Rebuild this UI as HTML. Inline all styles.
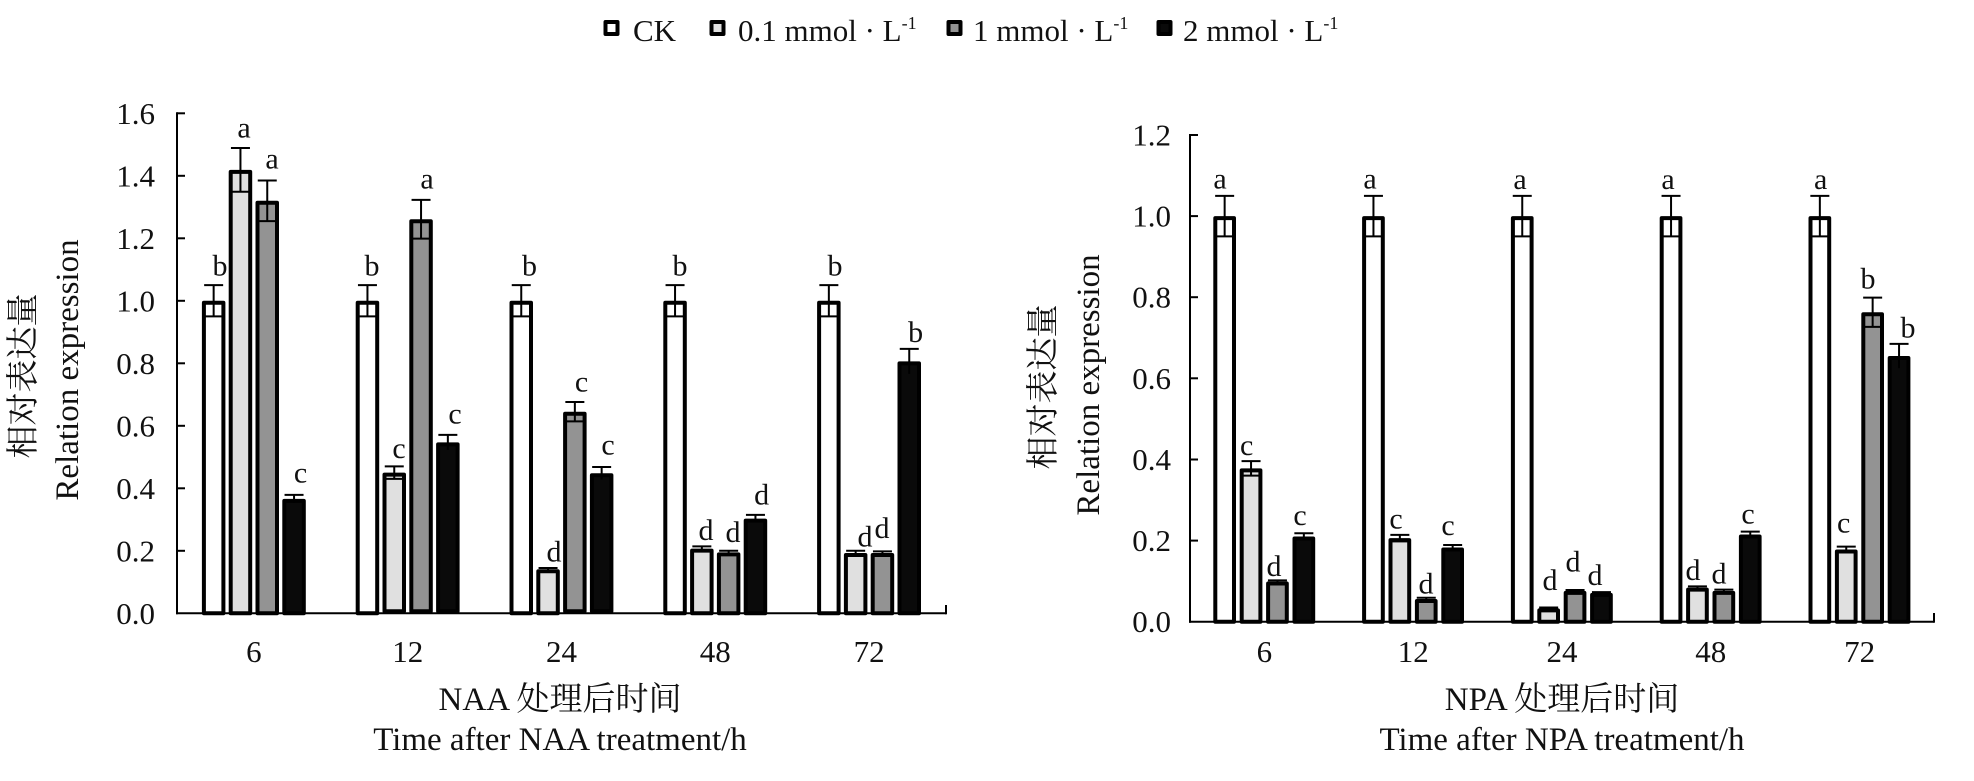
<!DOCTYPE html>
<html><head><meta charset="utf-8">
<style>
html,body{margin:0;padding:0;background:#fff;}
svg{display:block;}
text{font-family:"Liberation Serif","Noto Serif CJK SC",serif;fill:#111;}
.t{font-size:31px;}
.l{font-size:30px;text-anchor:middle;}
.ti{font-size:33px;}
</style></head>
<body>
<svg width="1974" height="781" viewBox="0 0 1974 781" xmlns="http://www.w3.org/2000/svg">
<rect width="1974" height="781" fill="#fff"/>

<!-- Legend -->
<g stroke="#000" stroke-width="4" stroke-linejoin="round">
<rect x="605.5" y="22" width="12" height="12" fill="#fff"/>
<rect x="711.5" y="22" width="12" height="12" fill="#e0e0e0"/>
<rect x="948.5" y="22" width="12" height="12" fill="#939393"/>
<rect x="1158.5" y="22" width="12" height="12" fill="#0a0a0a"/>
</g>
<text class="t" x="633" y="41">CK</text>
<text class="t" x="738" y="41">0.1 mmol · L<tspan font-size="18" dy="-12">-1</tspan></text>
<text class="t" x="973" y="41">1 mmol · L<tspan font-size="18" dy="-12">-1</tspan></text>
<text class="t" x="1183" y="41">2 mmol · L<tspan font-size="18" dy="-12">-1</tspan></text>

<!-- ================= LEFT CHART ================= -->
<g stroke="#000" stroke-width="2" fill="none">
<line x1="177" y1="112.3" x2="177" y2="614.3"/>
<line x1="176" y1="613.3" x2="946" y2="613.3"/>
<line x1="946" y1="605" x2="946" y2="614.3"/>
<line x1="177" y1="113.3" x2="185" y2="113.3"/>
<line x1="177" y1="175.8" x2="185" y2="175.8"/>
<line x1="177" y1="238.3" x2="185" y2="238.3"/>
<line x1="177" y1="300.8" x2="185" y2="300.8"/>
<line x1="177" y1="363.3" x2="185" y2="363.3"/>
<line x1="177" y1="425.8" x2="185" y2="425.8"/>
<line x1="177" y1="488.3" x2="185" y2="488.3"/>
<line x1="177" y1="550.8" x2="185" y2="550.8"/>
</g>
<text class="t" x="155" y="623.8" text-anchor="end">0.0</text>
<text class="t" x="155" y="561.3" text-anchor="end">0.2</text>
<text class="t" x="155" y="498.8" text-anchor="end">0.4</text>
<text class="t" x="155" y="436.3" text-anchor="end">0.6</text>
<text class="t" x="155" y="373.8" text-anchor="end">0.8</text>
<text class="t" x="155" y="311.3" text-anchor="end">1.0</text>
<text class="t" x="155" y="248.8" text-anchor="end">1.2</text>
<text class="t" x="155" y="186.3" text-anchor="end">1.4</text>
<text class="t" x="155" y="123.8" text-anchor="end">1.6</text>

<g stroke="#000" stroke-width="4" stroke-linejoin="round">
<!-- G6 -->
<rect x="203.9" y="302.8" width="19.5" height="310.5" fill="#fff"/>
<rect x="230.7" y="171.86" width="19.5" height="441.44" fill="#e0e0e0"/>
<rect x="257.5" y="202.8" width="19.5" height="410.5" fill="#939393"/>
<rect x="284.3" y="500.93" width="19.5" height="112.37" fill="#0a0a0a"/>
<!-- G12 -->
<rect x="357.7" y="302.8" width="19.5" height="310.5" fill="#fff"/>
<rect x="384.5" y="474.68" width="19.5" height="136.62" fill="#e0e0e0"/>
<rect x="411.3" y="221.24" width="19.5" height="390.06" fill="#939393"/>
<rect x="438.1" y="444.36" width="19.5" height="166.94" fill="#0a0a0a"/>
<!-- G24 -->
<rect x="511.5" y="302.8" width="19.5" height="310.5" fill="#fff"/>
<rect x="538.3" y="571.24" width="19.5" height="42.06" fill="#e0e0e0"/>
<rect x="565.1" y="413.74" width="19.5" height="197.56" fill="#939393"/>
<rect x="591.9" y="475.3" width="19.5" height="136" fill="#0a0a0a"/>
<!-- G48 -->
<rect x="665.3" y="302.8" width="19.5" height="310.5" fill="#fff"/>
<rect x="692.1" y="550.61" width="19.5" height="62.69" fill="#e0e0e0"/>
<rect x="718.9" y="554.36" width="19.5" height="58.94" fill="#939393"/>
<rect x="745.7" y="520.61" width="19.5" height="92.69" fill="#0a0a0a"/>
<!-- G72 -->
<rect x="819.1" y="302.8" width="19.5" height="310.5" fill="#fff"/>
<rect x="845.9" y="554.99" width="19.5" height="58.31" fill="#e0e0e0"/>
<rect x="872.7" y="554.99" width="19.5" height="58.31" fill="#939393"/>
<rect x="899.5" y="363.43" width="19.5" height="249.87" fill="#0a0a0a"/>
</g>

<!-- left error bars -->
<g stroke="#000" stroke-width="2" fill="none">
<path d="M213.65 285.18V316.43M204.15 285.18H223.15M204.15 316.43H223.15"/>
<path d="M240.45 148V191.74M230.95 148H249.95M230.95 191.74H249.95"/>
<path d="M267.25 180.5V221.1M257.75 180.5H276.75M257.75 221.1H276.75"/>
<path d="M294.05 494.86V502.99M284.55 494.86H303.55"/>

<path d="M367.45 285.18V316.43M357.95 285.18H376.95M357.95 316.43H376.95"/>
<path d="M394.25 466.43V478.93M384.75 466.43H403.75M384.75 478.93H403.75"/>
<path d="M421.05 199.86V238.61M411.55 199.86H430.55M411.55 238.61H430.55"/>
<path d="M447.85 434.86V449.86M438.35 434.86H457.35"/>

<path d="M521.25 285.18V316.43M511.75 285.18H530.75M511.75 316.43H530.75"/>
<path d="M548.05 567.99V570.49M538.55 567.99H557.55"/>
<path d="M574.85 402.05V421.42M565.35 402.05H584.35M565.35 421.42H584.35"/>
<path d="M601.65 467.05V479.55M592.15 467.05H611.15"/>

<path d="M675.05 285.18V316.43M665.55 285.18H684.55M665.55 316.43H684.55"/>
<path d="M701.85 546.43V550.8M692.35 546.43H711.35"/>
<path d="M728.65 550.8V553.93M719.15 550.8H738.15"/>
<path d="M755.45 514.86V522.36M745.95 514.86H764.95"/>

<path d="M828.85 285.18V316.43M819.35 285.18H838.35M819.35 316.43H838.35"/>
<path d="M855.65 550.8V555.18M846.15 550.8H865.15"/>
<path d="M882.45 551.43V554.55M872.95 551.43H891.95"/>
<path d="M909.25 348.93V373.93M899.75 348.93H918.75"/>
</g>

<!-- left letters -->
<text class="l" x="220" y="275.7">b</text>
<text class="l" x="244" y="137.7">a</text>
<text class="l" x="272" y="168.3">a</text>
<text class="l" x="300.5" y="482.3">c</text>
<text class="l" x="372" y="275.7">b</text>
<text class="l" x="399" y="458">c</text>
<text class="l" x="427" y="188.3">a</text>
<text class="l" x="455" y="423.3">c</text>
<text class="l" x="529.5" y="275.7">b</text>
<text class="l" x="554" y="561.7">d</text>
<text class="l" x="581.5" y="391.7">c</text>
<text class="l" x="608" y="454.3">c</text>
<text class="l" x="680" y="275.7">b</text>
<text class="l" x="706" y="540">d</text>
<text class="l" x="733" y="541.8">d</text>
<text class="l" x="761.6" y="504.3">d</text>
<text class="l" x="835" y="275.7">b</text>
<text class="l" x="865" y="546.4">d</text>
<text class="l" x="882" y="538">d</text>
<text class="l" x="915.6" y="341.8">b</text>

<!-- left x labels -->
<text class="t" x="253.9" y="662" text-anchor="middle">6</text>
<text class="t" x="407.7" y="662" text-anchor="middle">12</text>
<text class="t" x="561.5" y="662" text-anchor="middle">24</text>
<text class="t" x="715.3" y="662" text-anchor="middle">48</text>
<text class="t" x="869.1" y="662" text-anchor="middle">72</text>
<text class="ti" x="560" y="710" text-anchor="middle">NAA 处理后时间</text>
<text class="ti" x="560" y="750" text-anchor="middle">Time after NAA treatment/h</text>
<text class="ti" transform="translate(34,376) rotate(-90)" text-anchor="middle">相对表达量</text>
<text class="ti" transform="translate(78,370) rotate(-90)" text-anchor="middle">Relation expression</text>

<!-- ================= RIGHT CHART ================= -->
<g stroke="#000" stroke-width="2" fill="none">
<line x1="1190" y1="134" x2="1190" y2="622.7"/>
<line x1="1189" y1="621.7" x2="1934" y2="621.7"/>
<line x1="1934" y1="613" x2="1934" y2="622.7"/>
<line x1="1190" y1="135" x2="1198" y2="135"/>
<line x1="1190" y1="216.1" x2="1198" y2="216.1"/>
<line x1="1190" y1="297.2" x2="1198" y2="297.2"/>
<line x1="1190" y1="378.3" x2="1198" y2="378.3"/>
<line x1="1190" y1="459.5" x2="1198" y2="459.5"/>
<line x1="1190" y1="540.6" x2="1198" y2="540.6"/>
</g>
<text class="t" x="1171" y="632.2" text-anchor="end">0.0</text>
<text class="t" x="1171" y="551.1" text-anchor="end">0.2</text>
<text class="t" x="1171" y="470" text-anchor="end">0.4</text>
<text class="t" x="1171" y="388.8" text-anchor="end">0.6</text>
<text class="t" x="1171" y="307.7" text-anchor="end">0.8</text>
<text class="t" x="1171" y="226.6" text-anchor="end">1.0</text>
<text class="t" x="1171" y="145.5" text-anchor="end">1.2</text>

<g stroke="#000" stroke-width="4" stroke-linejoin="round">
<!-- G6 -->
<rect x="1215.3" y="218.1" width="18.7" height="403.6" fill="#fff"/>
<rect x="1241.7" y="470.38" width="18.7" height="151.32" fill="#e0e0e0"/>
<rect x="1268.1" y="583.55" width="18.7" height="38.15" fill="#939393"/>
<rect x="1294.5" y="538.52" width="18.7" height="83.18" fill="#0a0a0a"/>
<!-- G12 -->
<rect x="1364.1" y="218.1" width="18.7" height="403.6" fill="#fff"/>
<rect x="1390.5" y="540.15" width="18.7" height="81.55" fill="#e0e0e0"/>
<rect x="1416.9" y="600.99" width="18.7" height="20.71" fill="#939393"/>
<rect x="1443.3" y="549.48" width="18.7" height="72.22" fill="#0a0a0a"/>
<!-- G24 -->
<rect x="1512.9" y="218.1" width="18.7" height="403.6" fill="#fff"/>
<rect x="1539.3" y="610.32" width="18.7" height="11.38" fill="#e0e0e0"/>
<rect x="1565.7" y="592.87" width="18.7" height="28.83" fill="#939393"/>
<rect x="1592.1" y="594.9" width="18.7" height="26.8" fill="#0a0a0a"/>
<!-- G48 -->
<rect x="1661.7" y="218.1" width="18.7" height="403.6" fill="#fff"/>
<rect x="1688.1" y="589.63" width="18.7" height="32.07" fill="#e0e0e0"/>
<rect x="1714.5" y="592.87" width="18.7" height="28.83" fill="#939393"/>
<rect x="1740.9" y="536.5" width="18.7" height="85.2" fill="#0a0a0a"/>
<!-- G72 -->
<rect x="1810.5" y="218.1" width="18.7" height="403.6" fill="#fff"/>
<rect x="1836.9" y="551.5" width="18.7" height="70.2" fill="#e0e0e0"/>
<rect x="1863.3" y="314.23" width="18.7" height="307.47" fill="#939393"/>
<rect x="1889.7" y="358.03" width="18.7" height="263.67" fill="#0a0a0a"/>
</g>

<!-- right error bars -->
<g stroke="#000" stroke-width="2" fill="none">
<path d="M1224.65 195.82V236.38M1215.15 195.82H1234.15M1215.15 236.38H1234.15"/>
<path d="M1251.05 461.08V475.68M1241.55 461.08H1260.55M1241.55 475.68H1260.55"/>
<path d="M1277.45 580.33V582.76M1267.95 580.33H1286.95"/>
<path d="M1303.85 533.28V539.77M1294.35 533.28H1313.35"/>

<path d="M1373.45 195.82V236.38M1363.95 195.82H1382.95M1363.95 236.38H1382.95"/>
<path d="M1399.85 534.9V541.39M1390.35 534.9H1409.35M1390.35 541.39H1409.35"/>
<path d="M1426.25 597.77V600.2M1416.75 597.77H1435.75"/>
<path d="M1452.65 545.04V549.91M1443.15 545.04H1462.15"/>

<path d="M1522.25 195.82V236.38M1512.75 195.82H1531.75M1512.75 236.38H1531.75"/>
<path d="M1548.65 607.5V609.13M1539.15 607.5H1558.15"/>
<path d="M1575.05 590.06V591.69M1565.55 590.06H1584.55"/>
<path d="M1601.45 592.09V593.71M1591.95 592.09H1610.95"/>

<path d="M1671.05 195.82V236.38M1661.55 195.82H1680.55M1661.55 236.38H1680.55"/>
<path d="M1697.45 586.41V588.85M1687.95 586.41H1706.95"/>
<path d="M1723.85 589.66V592.09M1714.35 589.66H1733.35"/>
<path d="M1750.25 531.66V537.34M1740.75 531.66H1759.75"/>

<path d="M1819.85 195.82V236.38M1810.35 195.82H1829.35M1810.35 236.38H1829.35"/>
<path d="M1846.25 546.66V552.34M1836.75 546.66H1855.75M1836.75 552.34H1855.75"/>
<path d="M1872.65 297.63V326.83M1863.15 297.63H1882.15M1863.15 326.83H1882.15"/>
<path d="M1899.05 343.86V368.2M1889.55 343.86H1908.55"/>
</g>

<!-- right letters -->
<text class="l" x="1220" y="188.3">a</text>
<text class="l" x="1246.7" y="455">c</text>
<text class="l" x="1274" y="576">d</text>
<text class="l" x="1300" y="525">c</text>
<text class="l" x="1370" y="188.3">a</text>
<text class="l" x="1396" y="528.3">c</text>
<text class="l" x="1426" y="593.3">d</text>
<text class="l" x="1448" y="535">c</text>
<text class="l" x="1520" y="189">a</text>
<text class="l" x="1550" y="590">d</text>
<text class="l" x="1573" y="571.7">d</text>
<text class="l" x="1595" y="585">d</text>
<text class="l" x="1668" y="189">a</text>
<text class="l" x="1693" y="580">d</text>
<text class="l" x="1719" y="583.3">d</text>
<text class="l" x="1748" y="523.3">c</text>
<text class="l" x="1820.7" y="189">a</text>
<text class="l" x="1843.7" y="532.7">c</text>
<text class="l" x="1868" y="288.3">b</text>
<text class="l" x="1908" y="337.7">b</text>

<!-- right x labels -->
<text class="t" x="1264.4" y="662" text-anchor="middle">6</text>
<text class="t" x="1413.2" y="662" text-anchor="middle">12</text>
<text class="t" x="1562" y="662" text-anchor="middle">24</text>
<text class="t" x="1710.8" y="662" text-anchor="middle">48</text>
<text class="t" x="1859.6" y="662" text-anchor="middle">72</text>
<text class="ti" x="1562" y="710" text-anchor="middle">NPA 处理后时间</text>
<text class="ti" x="1562" y="750" text-anchor="middle">Time after NPA treatment/h</text>
<text class="ti" transform="translate(1054,387) rotate(-90)" text-anchor="middle">相对表达量</text>
<text class="ti" transform="translate(1099,385) rotate(-90)" text-anchor="middle">Relation expression</text>
</svg>
</body></html>
